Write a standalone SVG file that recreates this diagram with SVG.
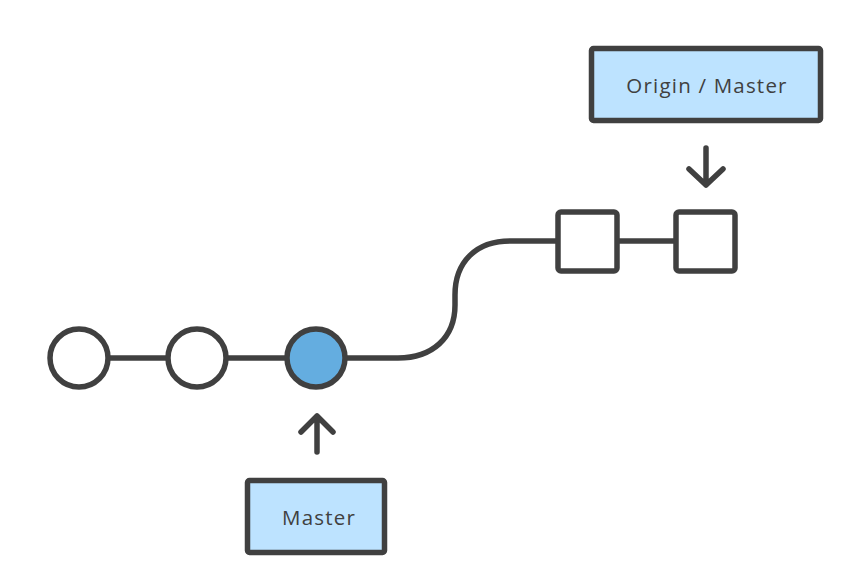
<svg xmlns="http://www.w3.org/2000/svg" width="865" height="588" viewBox="0 0 865 588">
<style>
.ln{fill:none;stroke:#404040;stroke-width:5.5;stroke-linecap:round;stroke-linejoin:round}
.c{fill:#fff;stroke:#404040;stroke-width:5.5}
.sq{fill:#fff;stroke:#404040;stroke-width:5.5}
.lb{fill:#bde3ff;stroke:#404040;stroke-width:5.5}
.t{font-family:"Open Sans","Liberation Sans",sans-serif;font-size:20.5px;fill:#404040;text-anchor:middle;letter-spacing:1.2px}
</style>
<rect width="865" height="588" fill="#fff"/>
<g id="connectors">
<line class="ln" x1="108" y1="358" x2="168" y2="358"/>
<line class="ln" x1="226" y1="358" x2="287" y2="358"/>
<path class="ln" d="M345 358 H398 C432 358 455 338 455 305 V295 C455 262 476 241 510 241 H558"/>
<line class="ln" x1="617" y1="241" x2="676" y2="241"/>
<path class="ln" d="M317 452 V416 M301 432 L317 416 L333 432"/>
<path class="ln" d="M706 148 V185 M689 169 L706 185 L723 169"/>
</g>
<g id="c1"><circle class="c" cx="79" cy="358" r="29"/></g>
<g id="c2"><circle class="c" cx="197" cy="358" r="29"/></g>
<g id="c3"><circle class="c" cx="316" cy="358" r="29" style="fill:#64ade0"/></g>
<g id="s1"><rect class="sq" x="558" y="212" width="59" height="59" rx="3"/></g>
<g id="s2"><rect class="sq" x="676" y="212" width="59" height="59" rx="3"/></g>
<g id="origin"><rect class="lb" x="591.5" y="48.5" width="229" height="72" rx="2"/><text class="t" x="707" y="93">Origin / Master</text></g>
<g id="master"><rect class="lb" x="247.5" y="480.5" width="137" height="72" rx="2"/><text class="t" x="319" y="525">Master</text></g>
</svg>
